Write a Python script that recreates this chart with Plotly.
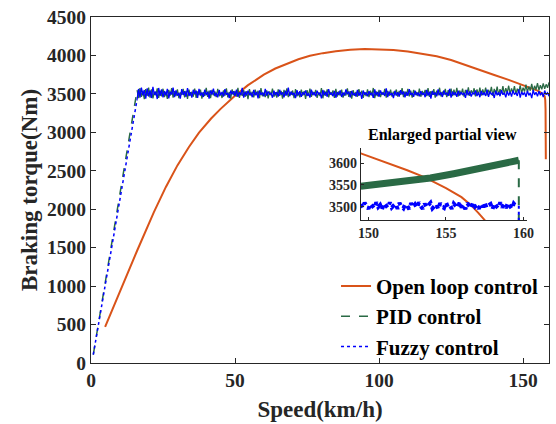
import plotly.graph_objects as go

# ---------------- data ----------------
open_speed = [4.9, 8, 12, 16, 21.8, 26, 30, 34, 37.5, 41.7, 45, 49.5, 54.4, 60, 64, 68, 72, 76,
              80.5, 85, 90, 95, 100, 105, 110, 115, 120, 125, 130, 135, 140, 145, 149.5, 151,
              152.5, 153.6, 155, 156, 156.6, 157.1, 157.5, 157.7, 157.8, 157.9]
open_torque = [470, 750, 1110, 1460, 1960, 2290, 2570, 2810, 2995, 3180, 3305, 3460, 3610, 3750,
               3830, 3895, 3950, 3995, 4030, 4055, 4075, 4085, 4083, 4072, 4052, 4025, 3990, 3940,
               3878, 3810, 3745, 3682, 3623, 3604, 3584, 3568, 3543, 3522, 3504, 3485, 3469, 3420,
               3300, 2650]

ramp_speed = [0.8, 16.0]
pid_ramp = [110, 3548]
fuzzy_ramp = [110, 3428]

# noisy part sampled from 16 km/h every 0.5 km/h
noise_start = 16.0
noise_step = 0.5
pid_torque = [
    3548, 3446, 3575, 3460, 3539, 3431, 3563, 3475, 3582, 3452, 3558, 3441, 3529, 3483, 3572, 3447, 3543, 3468, 3567, 3459,
    3526, 3436, 3553, 3479, 3574, 3451, 3535, 3471, 3559, 3443, 3518, 3486, 3564, 3455, 3540, 3435, 3555, 3478, 3527, 3463,
    3569, 3449, 3532, 3484, 3556, 3438, 3523, 3473, 3577, 3462, 3542, 3444, 3551, 3481, 3531, 3457, 3566, 3470, 3516, 3447,
    3545, 3476, 3571, 3454, 3524, 3439, 3559, 3483, 3537, 3465, 3580, 3449, 3519, 3475, 3550, 3460, 3534, 3433, 3563, 3479,
    3527, 3455, 3555, 3484, 3540, 3446, 3574, 3470, 3515, 3459, 3547, 3441, 3532, 3481, 3567, 3463, 3521, 3451, 3558, 3475,
    3539, 3438, 3551, 3478, 3572, 3457, 3526, 3487, 3543, 3444, 3561, 3468, 3518, 3454, 3556, 3479, 3535, 3435, 3548, 3473,
    3569, 3462, 3529, 3483, 3553, 3449, 3519, 3471, 3575, 3443, 3542, 3476, 3559, 3455, 3524, 3486, 3545, 3447, 3566, 3465,
    3532, 3478, 3555, 3452, 3516, 3481, 3571, 3460, 3537, 3439, 3550, 3475, 3526, 3463, 3563, 3484, 3540, 3449, 3521, 3471,
    3558, 3457, 3543, 3479, 3577, 3446, 3531, 3470, 3553, 3459, 3523, 3487, 3564, 3451, 3539, 3476, 3556, 3465, 3527, 3483,
    3557, 3466, 3537, 3487, 3575, 3458, 3530, 3477, 3564, 3469, 3541, 3450, 3551, 3485, 3525, 3471, 3570, 3463, 3538, 3489,
    3553, 3471, 3575, 3462, 3535, 3489, 3562, 3452, 3543, 3481, 3580, 3466, 3529, 3487, 3566, 3458, 3548, 3478, 3570, 3470,
    3554, 3480, 3578, 3469, 3543, 3493, 3568, 3463, 3551, 3485, 3586, 3475, 3546, 3498, 3573, 3467, 3559, 3488, 3581, 3479,
    3558, 3492, 3583, 3481, 3553, 3503, 3590, 3474, 3566, 3498, 3596, 3487, 3561, 3508, 3601, 3494, 3575, 3514, 3606, 3500,
    3572, 3510, 3601, 3500, 3568, 3518, 3611, 3510, 3581, 3530, 3619, 3522, 3595, 3542, 3630, 3536, 3605, 3555, 3640, 3548,
    3612, 3560, 3636, 3566, 3624, 3580, 3648, 3590]
fuzzy_torque = [
    3428, 3564, 3452, 3583, 3481, 3550, 3439, 3572, 3466, 3545, 3446, 3591, 3487, 3530, 3433, 3577, 3474, 3558, 3454, 3537,
    3482, 3566, 3441, 3527, 3492, 3583, 3458, 3546, 3478, 3513, 3438, 3561, 3487, 3534, 3463, 3574, 3473, 3522, 3452, 3553,
    3494, 3543, 3449, 3566, 3479, 3519, 3460, 3556, 3484, 3529, 3439, 3546, 3490, 3569, 3470, 3516, 3455, 3550, 3481, 3526,
    3466, 3561, 3489, 3514, 3446, 3543, 3495, 3534, 3473, 3554, 3462, 3519, 3486, 3577, 3452, 3530, 3478, 3540, 3492, 3511,
    3457, 3551, 3481, 3526, 3442, 3546, 3487, 3518, 3468, 3564, 3476, 3532, 3495, 3510, 3450, 3543, 3484, 3524, 3465, 3553,
    3490, 3519, 3454, 3540, 3479, 3582, 3471, 3529, 3492, 3514, 3446, 3548, 3482, 3534, 3462, 3522, 3489, 3545, 3474, 3511,
    3452, 3556, 3486, 3521, 3468, 3542, 3494, 3516, 3441, 3550, 3481, 3527, 3463, 3562, 3490, 3513, 3471, 3538, 3450, 3524,
    3487, 3546, 3460, 3518, 3478, 3559, 3495, 3530, 3455, 3538, 3484, 3510, 3466, 3553, 3476, 3522, 3436, 3543, 3489, 3519,
    3470, 3535, 3492, 3514, 3449, 3558, 3482, 3526, 3463, 3545, 3490, 3518, 3473, 3572, 3458, 3529, 3484, 3511, 3446, 3540,
    3479, 3521, 3465, 3548, 3494, 3532, 3454, 3524, 3476, 3561, 3487, 3513, 3462, 3542, 3482, 3519, 3470, 3534, 3492, 3514,
    3457, 3551, 3479, 3527, 3439, 3538, 3489, 3518, 3468, 3558, 3484, 3522, 3460, 3545, 3495, 3510, 3474, 3566, 3452, 3530,
    3486, 3519, 3463, 3543, 3478, 3524, 3490, 3513, 3449, 3553, 3481, 3532, 3466, 3516, 3494, 3546, 3471, 3521, 3457, 3538,
    3484, 3518, 3474, 3556, 3462, 3529, 3492, 3511, 3447, 3542, 3482, 3522, 3470, 3548, 3489, 3514, 3455, 3535, 3479, 3526,
    3465, 3546, 3490, 3516, 3473, 3559, 3452, 3527, 3486, 3519, 3462, 3540, 3481, 3513, 3444, 3550, 3487, 3522, 3468, 3534,
    3482, 3521, 3458, 3543, 3489, 3514, 3471, 3529]

# inset (enlarged view, 150-160 km/h)
inset_pid_speed = [149.5, 151, 152.5, 154, 155.5, 157, 158.5, 159.7]
inset_pid_torque = [3547, 3552, 3559, 3566, 3576, 3586, 3597, 3607]
inset_start = 149.5
inset_step = 0.125
inset_fuzzy_torque = [
    3506, 3497, 3509, 3500, 3495, 3507, 3502, 3496, 3510, 3499,
    3504, 3494, 3508, 3501, 3497, 3510, 3498, 3503, 3507, 3495,
    3509, 3500, 3496, 3506, 3502, 3494, 3508, 3499, 3505, 3497,
    3510, 3501, 3495, 3507, 3498, 3504, 3509, 3496, 3502, 3506,
    3494, 3508, 3500, 3497, 3510, 3499, 3503, 3495, 3507, 3501,
    3497, 3509, 3498, 3505, 3494, 3508, 3502, 3496, 3510, 3500,
    3504, 3495, 3507, 3499, 3509, 3497, 3503, 3506, 3494, 3508,
    3501, 3496, 3510, 3498, 3505, 3497, 3509, 3500, 3495, 3507,
    3502]
drop_speed = [159.7, 159.7]
pid_drop = [3607, 3300]
fuzzy_drop = [3502, 3300]

x_ticks = [0, 50, 100, 150]
y_ticks = [0, 500, 1000, 1500, 2000, 2500, 3000, 3500, 4000, 4500]
inset_x_ticks = [150, 155, 160]
inset_y_ticks = [3500, 3550, 3600]

ORANGE = "#D95319"
GREEN = "#2A6A45"
BLUE = "#0000FF"
AX = "#262626"
FONT = "Liberation Serif"

fig = go.Figure()
# main plot
fig.add_trace(go.Scatter(x=open_speed, y=open_torque, mode="lines", name="<b>Open loop control</b>",
                         line=dict(color=ORANGE, width=2), legendgroup="o"))
fig.add_trace(go.Scatter(x=ramp_speed, y=pid_ramp, mode="lines", name="<b>PID control</b>",
                         line=dict(color=GREEN, width=1.5, dash="dash"), legendgroup="p"))
fig.add_trace(go.Scatter(y=pid_torque, x0=noise_start, dx=noise_step, mode="lines", showlegend=False,
                         line=dict(color=GREEN, width=1.3), legendgroup="p"))
fig.add_trace(go.Scatter(x=ramp_speed, y=fuzzy_ramp, mode="lines", name="<b>Fuzzy control</b>",
                         line=dict(color=BLUE, width=1.5, dash="dot"), legendgroup="f"))
fig.add_trace(go.Scatter(y=fuzzy_torque, x0=noise_start, dx=noise_step, mode="lines", showlegend=False,
                         line=dict(color=BLUE, width=1.3), legendgroup="f"))

# inset
fig.add_trace(go.Scatter(x=open_speed, y=open_torque, mode="lines", showlegend=False,
                         line=dict(color=ORANGE, width=2), xaxis="x2", yaxis="y2"))
fig.add_trace(go.Scatter(x=inset_pid_speed, y=inset_pid_torque, mode="lines", showlegend=False,
                         line=dict(color=GREEN, width=7), xaxis="x2", yaxis="y2"))
fig.add_trace(go.Scatter(x=drop_speed, y=pid_drop, mode="lines", showlegend=False,
                         line=dict(color=GREEN, width=2, dash="dash"), xaxis="x2", yaxis="y2"))
fig.add_trace(go.Scatter(y=inset_fuzzy_torque, x0=inset_start, dx=inset_step, mode="lines", showlegend=False,
                         line=dict(color=BLUE, width=4, dash="dot"), xaxis="x2", yaxis="y2"))
fig.add_trace(go.Scatter(x=drop_speed, y=fuzzy_drop, mode="lines", showlegend=False,
                         line=dict(color=BLUE, width=2, dash="dot"), xaxis="x2", yaxis="y2"))

axis_common = dict(showline=True, linecolor=AX, linewidth=1, ticks="inside", ticklen=5,
                   tickcolor=AX, showgrid=False, zeroline=False,
                   tickfont=dict(family=FONT, size=19.5, color=AX, weight="bold"))

fig.update_layout(
    width=556, height=424,
    margin=dict(l=91, r=0, t=17, b=61),
    paper_bgcolor="white", plot_bgcolor="white",
    font=dict(family=FONT, color=AX, weight="bold"),
    xaxis=dict(range=[0, 159.0], tickvals=x_ticks, mirror="ticks", domain=[0, 1],
               title=dict(text="<b>Speed(km/h)</b>", font=dict(family=FONT, size=23, color=AX), standoff=10),
               **axis_common),
    yaxis=dict(range=[0, 4500], tickvals=y_ticks, mirror="ticks", domain=[0, 1],
               title=dict(text="<b>Braking torque(Nm)</b>", font=dict(family=FONT, size=23, color=AX), standoff=3),
               **axis_common),
    xaxis2=dict(range=[149.5, 160.2], tickvals=inset_x_ticks, domain=[0.589, 0.951], anchor="y2",
                showline=True, linecolor=AX, linewidth=1, ticks="inside", ticklen=3, tickcolor=AX,
                showgrid=False, zeroline=False,
                tickfont=dict(family=FONT, size=14, color=AX, weight="bold")),
    yaxis2=dict(range=[3469, 3635], tickvals=inset_y_ticks, domain=[0.413, 0.621], anchor="x2",
                showline=True, linecolor=AX, linewidth=1, ticks="inside", ticklen=3, tickcolor=AX,
                showgrid=False, zeroline=False,
                tickfont=dict(family=FONT, size=14, color=AX, weight="bold")),
    legend=dict(x=0.535, y=0.281, xanchor="left", yanchor="top", bgcolor="rgba(0,0,0,0)",
                font=dict(family=FONT, size=21, color="black"),
                itemwidth=30, tracegroupgap=0),
    annotations=[dict(text="<b>Enlarged partial view</b>", xref="paper", yref="paper",
                      x=0.768, y=0.66, xanchor="center", yanchor="middle", showarrow=False,
                      font=dict(family=FONT, size=16, color="black"))],
    showlegend=True,
)

fig.write_html("out.html")
